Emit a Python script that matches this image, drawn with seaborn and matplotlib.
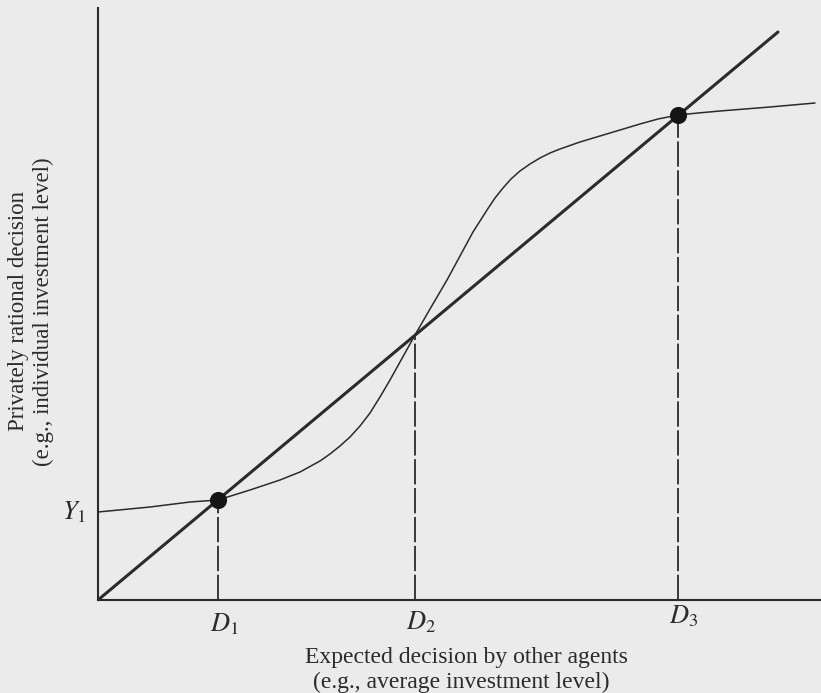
import numpy as np
import pandas as pd
import matplotlib
matplotlib.use("Agg")
import matplotlib.pyplot as plt
import seaborn as sns

# values (x = expected decision of others, y = own decision)
curve_x = [0, 52, 92, 120, 152, 182, 202, 222, 232, 242, 252, 262, 272, 282, 292,
           302, 317, 332, 349, 362, 375, 389, 397, 405, 413, 422, 432, 442, 452,
           462, 482, 502, 522, 542, 560, 580, 600, 622, 672, 717]
curve_y = [88, 93, 98, 100, 110, 120, 128, 139, 146, 154, 163, 174, 187, 203, 220,
           238, 265, 291, 320, 344, 368, 390, 402, 412, 421, 429, 436, 442, 447,
           451, 458, 464, 470, 476, 481, 485, 487, 489, 493, 497]
diag_x = [0, 680]
diag_y = [0, 568]
eq_x = [120, 317, 580]
eq_y = [100, 265, 485]
eq_labels = ["$D_1$", "$D_2$", "$D_3$"]
stable = [0, 2]
y1_value = 88

sns.set_style("white")
plt.rcParams["font.family"] = ["Liberation Serif", "DejaVu Serif"]
plt.rcParams["mathtext.fontset"] = "stix"

ink = "#2b2b2b"
paper = "#ebebeb"

fig = plt.figure(figsize=(8.21, 6.93), dpi=100)
fig.patch.set_facecolor(paper)
ax = fig.add_axes([98 / 821, 93 / 693, 723 / 821, 592 / 693])
ax.set_facecolor(paper)

curve = pd.DataFrame({"x": curve_x, "y": curve_y})
sns.lineplot(data=curve, x="x", y="y", sort=False, estimator=None,
             color=ink, linewidth=1.1, ax=ax)
sns.lineplot(x=diag_x, y=diag_y, sort=False, estimator=None,
             color=ink, linewidth=2.2, ax=ax)

ax.vlines(eq_x, 0, eq_y, colors=ink, linewidth=1.3, linestyles=(0, (14, 2)))
sns.scatterplot(x=[eq_x[i] for i in stable], y=[eq_y[i] for i in stable],
                color="#151515", s=130, edgecolor="#151515", zorder=5, ax=ax)

offsets = [-24, -22, -16]
for xv, lab, off in zip(eq_x, eq_labels, offsets):
    ax.text(xv + 6, off, lab, fontsize=19, color=ink, ha="center", va="center",
            clip_on=False)
ax.text(-12, y1_value, "$Y_1$", fontsize=19, color=ink, ha="right", va="center",
        clip_on=False)

ax.set_xlim(0, 723)
ax.set_ylim(0, 592)
ax.set_xticks([])
ax.set_yticks([])
ax.set_xlabel("")
ax.set_ylabel("")
sns.despine(ax=ax)
for side in ["left", "bottom"]:
    ax.spines[side].set_color(ink)
    ax.spines[side].set_linewidth(1.5)
if ax.get_legend() is not None:
    ax.get_legend().remove()

fig.text(466 / 821, 1 - 657 / 693, "Expected decision by other agents",
         fontsize=17, color=ink, ha="center", va="center")
fig.text(461 / 821, 1 - 682 / 693, "(e.g., average investment level)",
         fontsize=17, color=ink, ha="center", va="center")
fig.text(19 / 821, 1 - 311 / 693, "Privately rational decision",
         fontsize=16.5, color=ink, ha="center", va="center", rotation=90)
fig.text(43 / 821, 1 - 312 / 693, "(e.g., individual investment level)",
         fontsize=16.5, color=ink, ha="center", va="center", rotation=90)

fig.savefig("out.png", dpi=100, facecolor=paper)
